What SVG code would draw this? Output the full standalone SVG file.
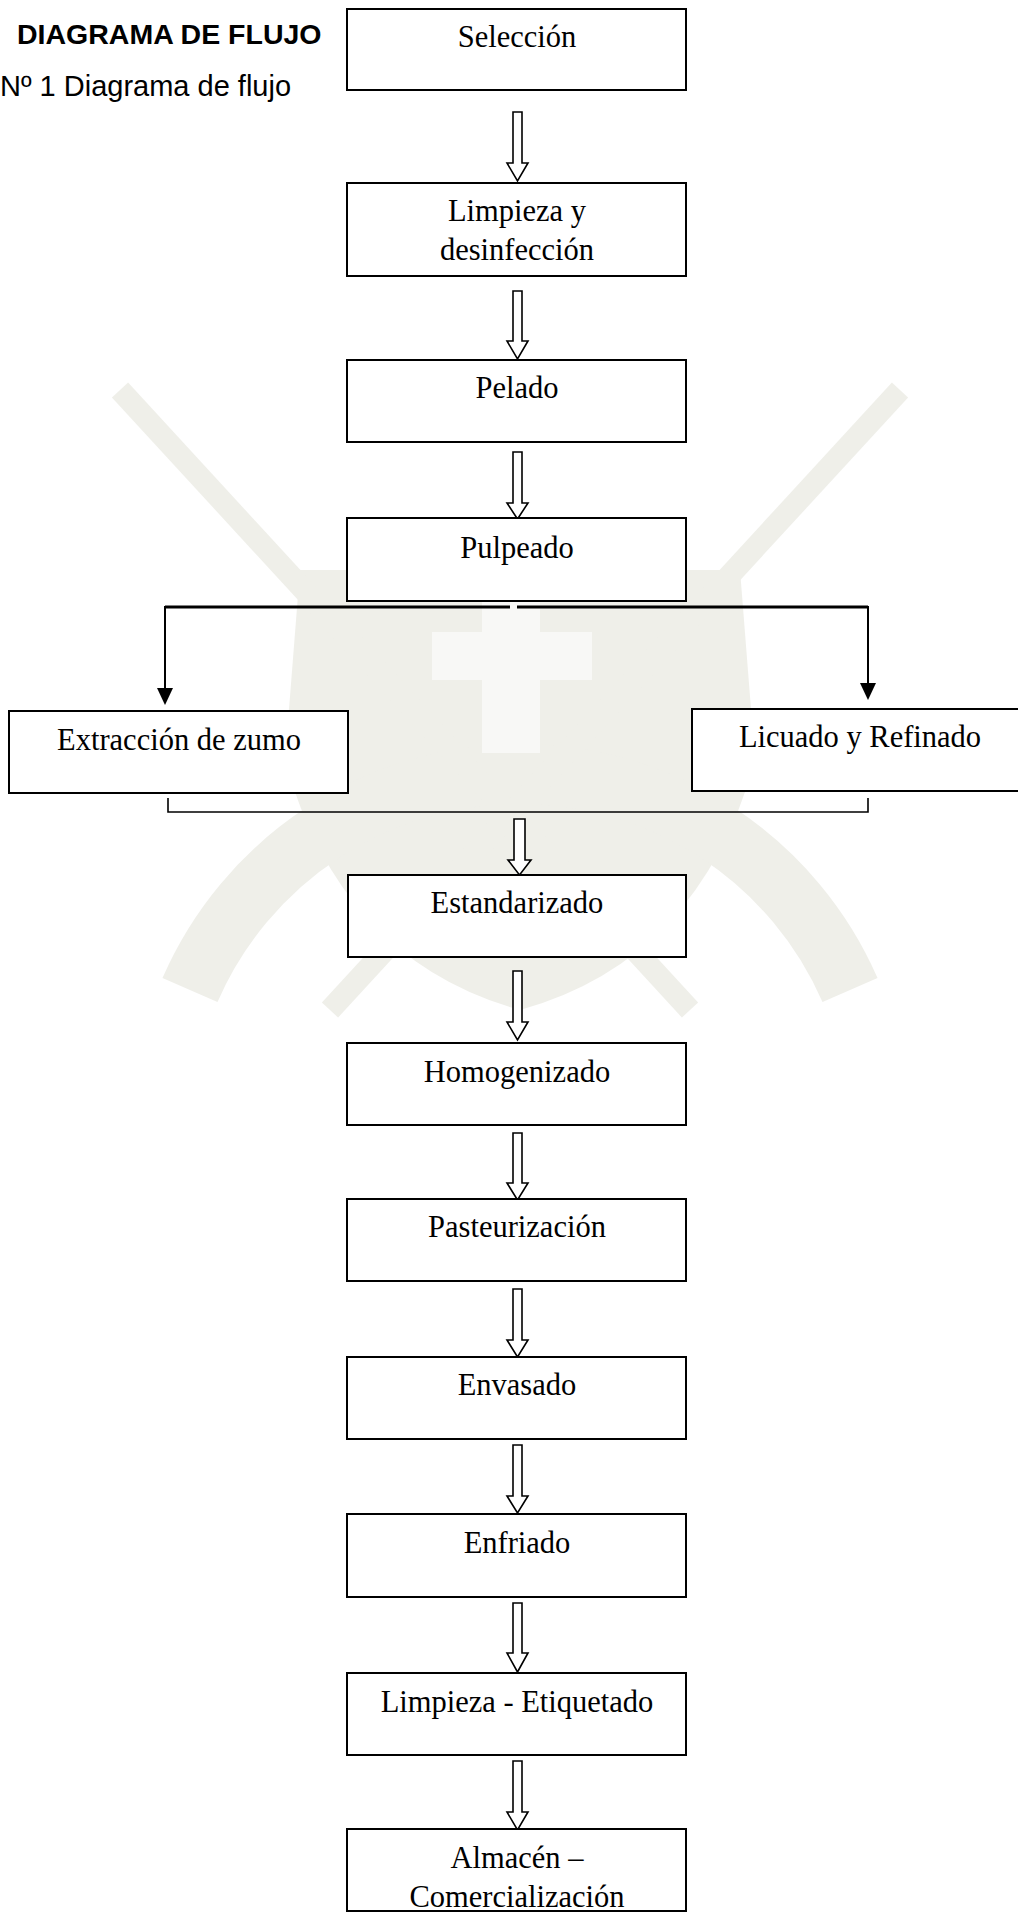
<svg xmlns="http://www.w3.org/2000/svg" width="1018" height="1912" viewBox="0 0 1018 1912">
  <style>
    .box { fill: #ffffff; stroke: #000000; stroke-width: 2; }
    .lbl { font-family: "Liberation Serif", "Times New Roman", serif; font-size: 30.5px; fill: #000000; text-anchor: middle; }
    .harrow { fill: #ffffff; stroke: #000000; stroke-width: 1.6; stroke-linejoin: miter; }
    .line { fill: none; stroke: #000000; }
    .head { fill: #000000; stroke: none; }
    .wm { fill: #dcdccf; }
    .wml { fill: #f1f1ec; }
  </style>
  <rect x="0" y="0" width="1018" height="1912" fill="#ffffff"/>

  <!-- faint watermark (background) -->
  <g id="watermark" opacity="0.45">
    <path class="wm" d="M300,570 L740,570 L755,760 Q700,960 520,1010 Q340,960 285,760 Z"/>
    <path d="M190,990 A360,360 0 0 1 850,990" fill="none" stroke="#dcdccf" stroke-width="60"/>
    <path d="M120,390 L690,1010" fill="none" stroke="#dcdccf" stroke-width="22"/>
    <path d="M900,390 L330,1010" fill="none" stroke="#dcdccf" stroke-width="22"/>
    <rect class="wml" x="482" y="578" width="58" height="175"/>
    <rect class="wml" x="432" y="632" width="160" height="48"/>
  </g>

  <text id="title" x="17" y="44" font-family="'Liberation Sans', Arial, sans-serif" font-size="28.5" font-weight="bold" fill="#000000">DIAGRAMA DE FLUJO</text>
  <text id="subtitle" x="0" y="96" font-family="'Liberation Sans', Arial, sans-serif" font-size="29" fill="#000000">Nº 1 Diagrama de flujo</text>

  <g id="connectors">
    <path class="harrow" d="M513,112 H522 V163 H528 L517.5,181 L507,163 H513 Z"/>
    <path class="harrow" d="M513,291 H522 V341 H528 L517.5,359 L507,341 H513 Z"/>
    <path class="harrow" d="M513,452 H522 V503 H528 L517.5,519 L507,503 H513 Z"/>
    <path class="line" stroke-width="3" d="M165,607 H510 M517,607 H868"/>
    <path class="line" stroke-width="2" d="M165,606 V690"/>
    <polygon class="head" points="157,688 173,688 165,705"/>
    <path class="line" stroke-width="2" d="M868,606 V685"/>
    <polygon class="head" points="860,683 876,683 868,700"/>
    <path class="line" stroke-width="1.6" d="M168,798 V812 H868 V798"/>
    <path class="harrow" d="M514,819 H525 V860 H531 L519.5,875 L508,860 H514 Z"/>
    <path class="harrow" d="M513,971 H522 V1022 H528 L517.5,1040 L507,1022 H513 Z"/>
    <path class="harrow" d="M513,1133 H522 V1183 H528 L517.5,1200 L507,1183 H513 Z"/>
    <path class="harrow" d="M513,1289 H522 V1340 H528 L517.5,1357 L507,1340 H513 Z"/>
    <path class="harrow" d="M513,1445 H522 V1496 H528 L517.5,1513 L507,1496 H513 Z"/>
    <path class="harrow" d="M513,1603 H522 V1653 H528 L517.5,1672 L507,1653 H513 Z"/>
    <path class="harrow" d="M513,1761 H522 V1812 H528 L517.5,1830 L507,1812 H513 Z"/>
  </g>

  <g id="n-seleccion">
    <rect class="box" x="347" y="9" width="339" height="81"/>
    <text class="lbl" x="517" y="47">Selección</text>
  </g>
  <g id="n-limpieza">
    <rect class="box" x="347" y="183" width="339" height="93"/>
    <text class="lbl" x="517" y="221">Limpieza y</text>
    <text class="lbl" x="517" y="260">desinfección</text>
  </g>
  <g id="n-pelado">
    <rect class="box" x="347" y="360" width="339" height="82"/>
    <text class="lbl" x="517" y="398">Pelado</text>
  </g>
  <g id="n-pulpeado">
    <rect class="box" x="347" y="518" width="339" height="83"/>
    <text class="lbl" x="517" y="558">Pulpeado</text>
  </g>
  <g id="n-extraccion">
    <rect class="box" x="9" y="711" width="339" height="82"/>
    <text class="lbl" x="179" y="750">Extracción de zumo</text>
  </g>
  <g id="n-licuado">
    <rect class="box" x="692" y="709" width="340" height="82"/>
    <text class="lbl" x="860" y="747">Licuado y Refinado</text>
  </g>
  <g id="n-estandarizado">
    <rect class="box" x="348" y="875" width="338" height="82"/>
    <text class="lbl" x="517" y="913">Estandarizado</text>
  </g>
  <g id="n-homogenizado">
    <rect class="box" x="347" y="1043" width="339" height="82"/>
    <text class="lbl" x="517" y="1082">Homogenizado</text>
  </g>
  <g id="n-pasteurizacion">
    <rect class="box" x="347" y="1199" width="339" height="82"/>
    <text class="lbl" x="517" y="1237">Pasteurización</text>
  </g>
  <g id="n-envasado">
    <rect class="box" x="347" y="1357" width="339" height="82"/>
    <text class="lbl" x="517" y="1395">Envasado</text>
  </g>
  <g id="n-enfriado">
    <rect class="box" x="347" y="1514" width="339" height="83"/>
    <text class="lbl" x="517" y="1553">Enfriado</text>
  </g>
  <g id="n-etiquetado">
    <rect class="box" x="347" y="1673" width="339" height="82"/>
    <text class="lbl" x="517" y="1712">Limpieza - Etiquetado</text>
  </g>
  <g id="n-almacen">
    <rect class="box" x="347" y="1829" width="339" height="82"/>
    <text class="lbl" x="517" y="1868">Almacén –</text>
    <text class="lbl" x="517" y="1907">Comercialización</text>
  </g>
</svg>
